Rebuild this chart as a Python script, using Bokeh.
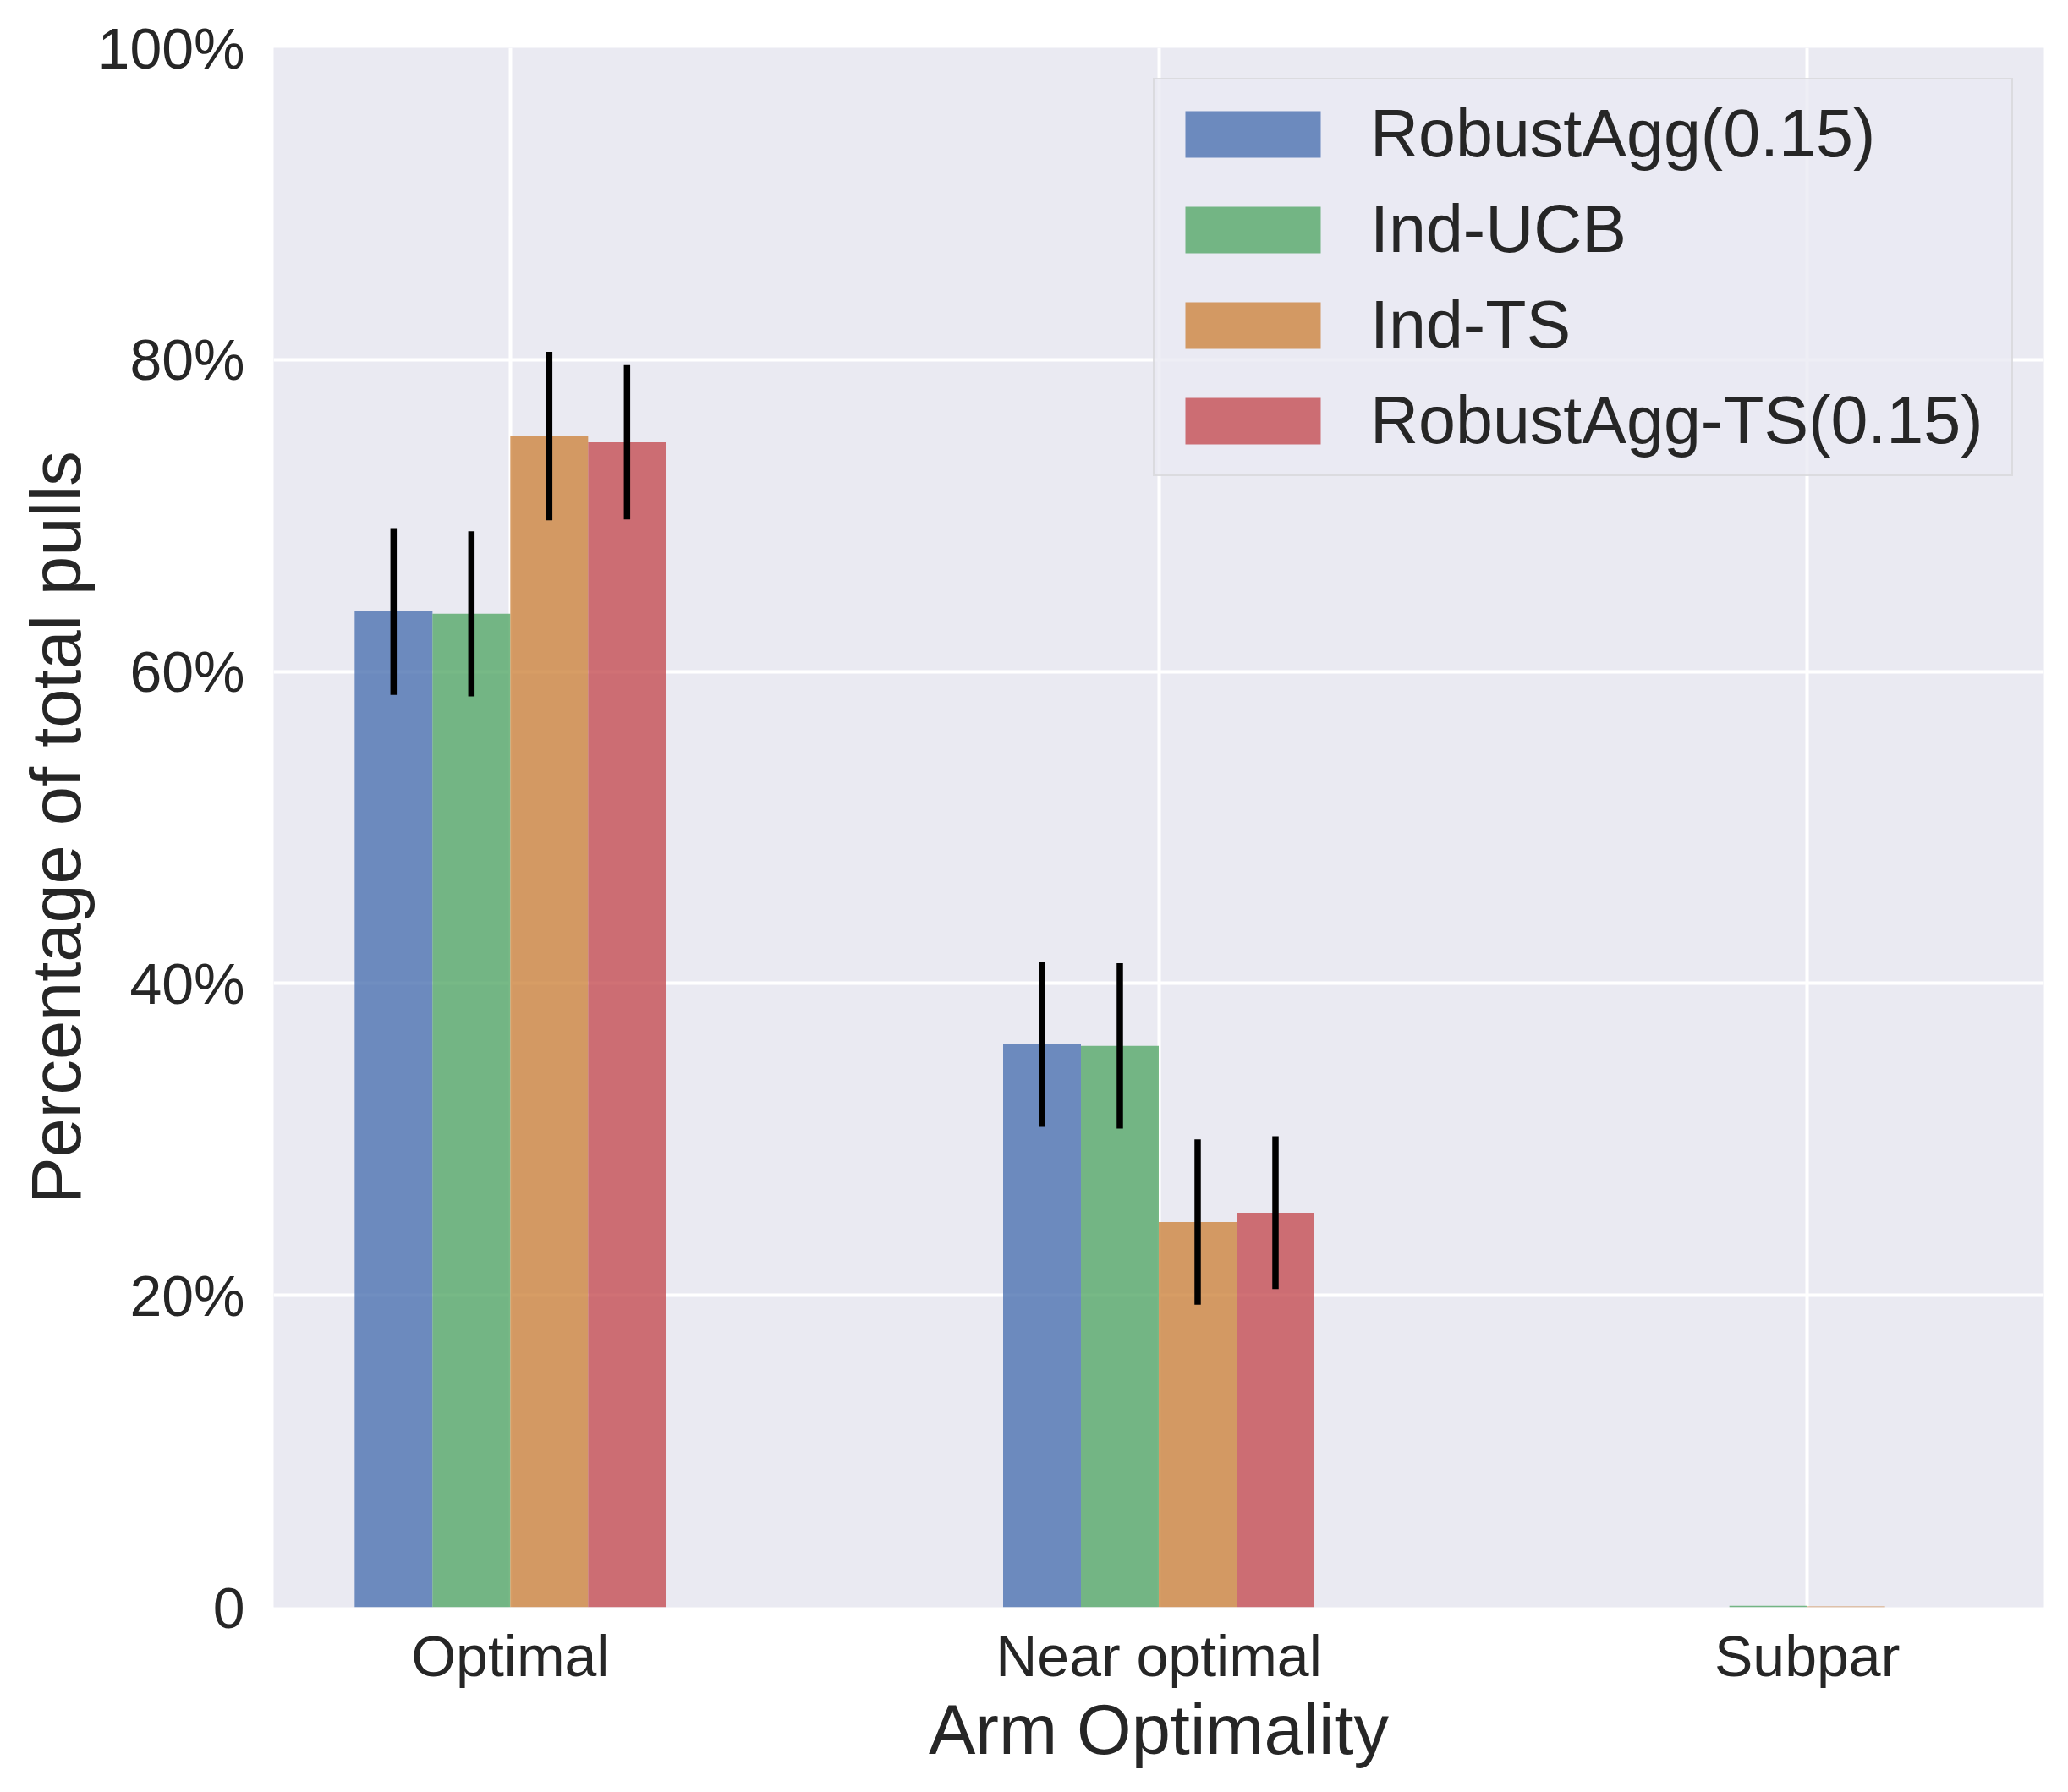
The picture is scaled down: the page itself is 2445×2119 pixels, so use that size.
from bokeh.plotting import figure
from bokeh.models import (ColumnDataSource, FactorRange, Range1d, FixedTicker,
                          Legend, LegendItem)
from bokeh.transform import dodge
from bokeh.embed import file_html
from bokeh.resources import INLINE

# ---------------- data ----------------
categories = ["Optimal", "Near optimal", "Subpar"]
series_names = ["RobustAgg(0.15)", "Ind-UCB", "Ind-TS", "RobustAgg-TS(0.15)"]

robustagg = [63.85, 36.1, 0.0]
robustagg_err = [5.35, 5.3, 0.0]
ind_ucb = [63.7, 36.0, 0.1]
ind_ucb_err = [5.3, 5.3, 0.0]
ind_ts = [75.1, 24.7, 0.05]
ind_ts_err = [5.4, 5.3, 0.0]
robustagg_ts = [74.7, 25.3, 0.0]
robustagg_ts_err = [4.95, 4.9, 0.0]

y_ticks = [0, 20, 40, 60, 80, 100]
y_tick_labels = ["0", "20%", "40%", "60%", "80%", "100%"]

colors = ["#4C72B0", "#55A868", "#CD853F", "#C44E52"]
bar_width = 0.12
offsets = [-0.18, -0.06, 0.06, 0.18]

series_vals = [robustagg, ind_ucb, ind_ts, robustagg_ts]
series_errs = [robustagg_err, ind_ucb_err, ind_ts_err, robustagg_ts_err]

FONT = "Liberation Sans"
TEXT = "#262626"

p = figure(
    x_range=FactorRange(*categories, range_padding=-0.09, range_padding_units="percent"),
    y_range=Range1d(0, 100),
    width=2437, height=2111,
    output_backend="svg", toolbar_location=None,
    min_border_left=323, min_border_right=21, min_border_top=56, min_border_bottom=211,
    background_fill_color="#EAEAF2", border_fill_color="white",
    outline_line_color=None,
)

items = []
for i, (name, vals, errs) in enumerate(zip(series_names, series_vals, series_errs)):
    src = ColumnDataSource(dict(
        cat=categories,
        val=vals,
        lo=[v - e for v, e in zip(vals, errs)],
        hi=[v + e for v, e in zip(vals, errs)],
    ))
    xt = dodge("cat", offsets[i], range=p.x_range)
    r = p.vbar(x=xt, top="val", width=bar_width, source=src,
               fill_color=colors[i], fill_alpha=0.8, line_color=None)
    p.segment(x0=xt, x1=xt, y0="lo", y1="hi", source=src,
              line_color="black", line_width=7.5)
    items.append(LegendItem(label=name, renderers=[r]))

# grid
p.xgrid.grid_line_color = "white"
p.xgrid.grid_line_width = 4
p.ygrid.grid_line_color = "white"
p.ygrid.grid_line_width = 4

# axes
p.yaxis.ticker = FixedTicker(ticks=y_ticks)
p.yaxis.major_label_overrides = dict(zip(y_ticks, y_tick_labels))
for ax in (p.xaxis[0], p.yaxis[0]):
    ax.axis_line_color = None
    ax.major_tick_line_color = None
    ax.minor_tick_line_color = None
    ax.major_tick_out = 0
    ax.major_tick_in = 0
    ax.major_label_text_font = FONT
    ax.major_label_text_font_size = "68px"
    ax.major_label_text_color = TEXT
    ax.axis_label_text_font = FONT
    ax.axis_label_text_font_size = "83px"
    ax.axis_label_text_font_style = "normal"
    ax.axis_label_text_color = TEXT
    ax.axis_label_standoff = 0

p.yaxis.major_label_standoff = 34
p.xaxis.major_label_standoff = 19
p.xaxis.axis_label = "Arm Optimality"
p.yaxis.axis_label = "Percentage of total pulls"

legend = Legend(
    items=items, location=(1040, 1337), margin=0,
    label_text_font=FONT, label_text_font_size="79px", label_text_color=TEXT,
    glyph_width=200, glyph_height=69, label_standoff=39,
    label_height=96, label_width=742, spacing=17, padding=16,
    background_fill_color="#EAEAF2", background_fill_alpha=0.8,
    border_line_color="#cccccc", border_line_width=2,
)
p.add_layout(legend)

open("out.html", "w").write(file_html(p, INLINE))
